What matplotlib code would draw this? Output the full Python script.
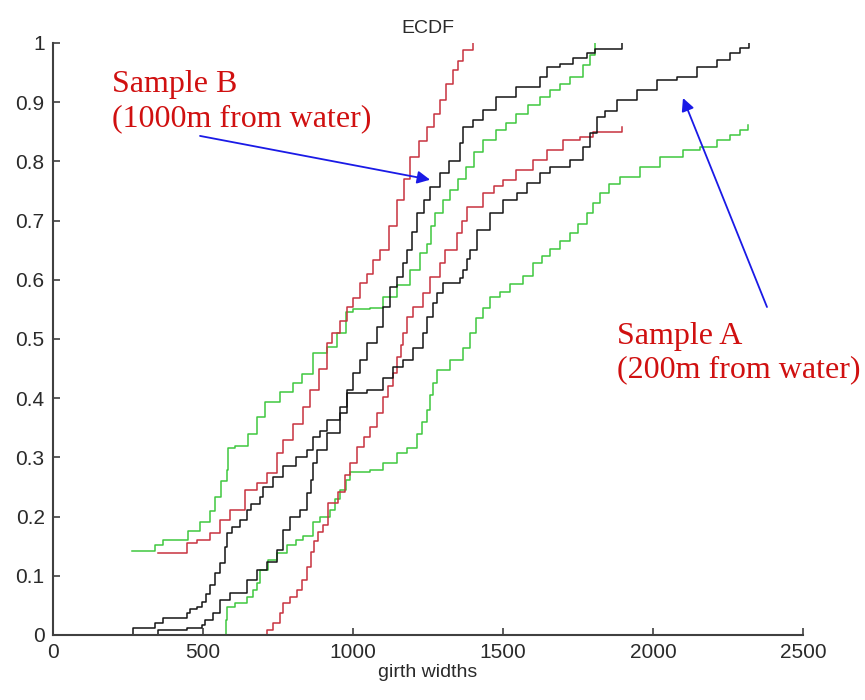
import matplotlib.pyplot as plt

# Curvas ECDF (x = girth width, y = F(x)), desenhadas em degraus
r1_x = [350, 447, 480, 523, 557, 590, 640, 680, 713, 747, 767, 800, 833, 857, 885, 913, 930, 955, 980,
        1000, 1023, 1045, 1067, 1090, 1120, 1147, 1170, 1190, 1220, 1247, 1270, 1290, 1310, 1333, 1350,
        1367, 1400]
r1_y = [0.138, 0.155, 0.16, 0.172, 0.194, 0.211, 0.245, 0.256, 0.273, 0.307, 0.33, 0.357, 0.385, 0.414,
        0.45, 0.493, 0.51, 0.53, 0.554, 0.57, 0.594, 0.61, 0.633, 0.65, 0.69, 0.735, 0.77, 0.807, 0.835,
        0.858, 0.88, 0.904, 0.93, 0.954, 0.97, 0.988, 1.0]

g1_x = [262, 340, 367, 450, 490, 523, 540, 560, 579, 583, 607, 650, 680, 707, 757, 800, 830, 867, 912,
        945, 978, 1000, 1057, 1101, 1145, 1190, 1223, 1247, 1260, 1273, 1300, 1323, 1350, 1378, 1405,
        1433, 1478, 1510, 1545, 1585, 1623, 1657, 1690, 1723, 1767, 1790, 1807]
g1_y = [0.141, 0.152, 0.16, 0.175, 0.19, 0.21, 0.233, 0.26, 0.279, 0.316, 0.32, 0.34, 0.368, 0.394, 0.41,
        0.425, 0.44, 0.476, 0.487, 0.51, 0.546, 0.55, 0.552, 0.571, 0.591, 0.617, 0.645, 0.66, 0.69, 0.713,
        0.735, 0.752, 0.77, 0.79, 0.815, 0.836, 0.853, 0.865, 0.88, 0.895, 0.909, 0.92, 0.93, 0.943, 0.963,
        0.98, 1.0]

g2_x = [262, 577, 580, 607, 647, 665, 680, 690, 717, 747, 780, 810, 833, 867, 890, 923, 940, 957, 975,
        990, 1057, 1100, 1147, 1180, 1213, 1230, 1247, 1257, 1267, 1280, 1323, 1367, 1390, 1410, 1433,
        1457, 1490, 1523, 1567, 1600, 1630, 1657, 1690, 1723, 1750, 1780, 1800, 1823, 1855, 1890, 1957,
        2023, 2100, 2157, 2213, 2257, 2290, 2317]
g2_y = [0.0, 0.025, 0.047, 0.054, 0.064, 0.076, 0.088, 0.11, 0.127, 0.138, 0.152, 0.16, 0.168, 0.19, 0.2,
        0.211, 0.23, 0.245, 0.262, 0.275, 0.279, 0.29, 0.307, 0.315, 0.34, 0.36, 0.38, 0.405, 0.425, 0.448,
        0.464, 0.485, 0.51, 0.535, 0.552, 0.571, 0.58, 0.593, 0.607, 0.628, 0.64, 0.652, 0.665, 0.679,
        0.695, 0.713, 0.73, 0.747, 0.762, 0.774, 0.791, 0.808, 0.819, 0.824, 0.836, 0.845, 0.853, 0.861]

r2_x = [350, 713, 733, 757, 767, 790, 813, 830, 847, 860, 870, 883, 900, 917, 950, 973, 990, 1013, 1035,
        1057, 1080, 1100, 1117, 1133, 1147, 1160, 1167, 1180, 1200, 1233, 1257, 1290, 1307, 1347, 1365,
        1380, 1433, 1470, 1500, 1545, 1600, 1647, 1700, 1757, 1800, 1897]
r2_y = [0.0, 0.008, 0.02, 0.037, 0.054, 0.064, 0.076, 0.093, 0.115, 0.14, 0.158, 0.174, 0.185, 0.223,
        0.242, 0.27, 0.29, 0.318, 0.335, 0.351, 0.375, 0.402, 0.42, 0.442, 0.47, 0.49, 0.51, 0.537, 0.554,
        0.578, 0.605, 0.628, 0.65, 0.679, 0.7, 0.723, 0.747, 0.758, 0.769, 0.785, 0.802, 0.819, 0.836,
        0.841, 0.85, 0.858]

k1_x = [265, 265, 340, 367, 447, 457, 480, 497, 510, 523, 540, 557, 573, 580, 597, 623, 647, 660, 690,
        700, 733, 767, 810, 847, 867, 890, 913, 957, 980, 1000, 1023, 1047, 1080, 1100, 1123, 1147, 1167,
        1180, 1197, 1213, 1235, 1257, 1290, 1320, 1357, 1367, 1400, 1433, 1478, 1545, 1623, 1647, 1690,
        1733, 1780, 1807, 1897]
k1_y = [0.0, 0.012, 0.02, 0.029, 0.037, 0.044, 0.047, 0.056, 0.07, 0.084, 0.105, 0.122, 0.149, 0.172,
        0.182, 0.194, 0.211, 0.222, 0.233, 0.25, 0.267, 0.285, 0.3, 0.313, 0.335, 0.345, 0.363, 0.385,
        0.414, 0.442, 0.464, 0.493, 0.52, 0.554, 0.588, 0.605, 0.628, 0.65, 0.68, 0.713, 0.735, 0.757,
        0.78, 0.8, 0.831, 0.858, 0.87, 0.887, 0.909, 0.926, 0.943, 0.96, 0.965, 0.975, 0.983, 0.99, 1.0]

k2_x = [350, 350, 447, 497, 505, 533, 557, 590, 647, 680, 713, 747, 767, 790, 823, 847, 860, 867, 880,
        913, 957, 980, 1047, 1100, 1133, 1167, 1200, 1233, 1247, 1265, 1280, 1300, 1357, 1367, 1380, 1390,
        1413, 1457, 1500, 1547, 1580, 1623, 1657, 1723, 1767, 1790, 1813, 1840, 1880, 1947, 2013, 2080,
        2147, 2213, 2257, 2290, 2320]
k2_y = [0.0, 0.008, 0.012, 0.017, 0.025, 0.037, 0.059, 0.071, 0.093, 0.11, 0.123, 0.144, 0.177, 0.2,
        0.211, 0.24, 0.262, 0.29, 0.312, 0.341, 0.375, 0.409, 0.414, 0.434, 0.453, 0.464, 0.485, 0.51,
        0.537, 0.56, 0.578, 0.595, 0.603, 0.617, 0.635, 0.65, 0.684, 0.713, 0.735, 0.747, 0.763, 0.78,
        0.79, 0.802, 0.824, 0.848, 0.875, 0.885, 0.904, 0.92, 0.937, 0.943, 0.96, 0.971, 0.983, 0.991, 1.0]

curvas = [
    (g1_x, g1_y, '#3fc83f'),
    (g2_x, g2_y, '#3fc83f'),
    (r1_x, r1_y, '#c8323f'),
    (r2_x, r2_y, '#c8323f'),
    (k1_x, k1_y, '#151515'),
    (k2_x, k2_y, '#151515'),
]

plt.rcParams['font.family'] = ['Liberation Sans', 'DejaVu Sans']

fig = plt.figure(figsize=(8.65, 7), dpi=100)
ax = fig.add_axes([0.0613, 0.0929, 0.867, 0.8457])

for xs, ys, cor in curvas:
    ax.plot(xs, ys, drawstyle='steps-post', color=cor, lw=1.1)

ax.set_xlim(0, 2500)
ax.set_ylim(0, 1)
ax.set_xticks([0, 500, 1000, 1500, 2000, 2500])
ax.set_yticks([i / 10 for i in range(11)])
ax.set_yticklabels(['0', '0.1', '0.2', '0.3', '0.4', '0.5', '0.6', '0.7', '0.8', '0.9', '1'])

for lado in ['top', 'right']:
    ax.spines[lado].set_visible(False)
for lado in ['left', 'bottom']:
    ax.spines[lado].set_color('#404040')
    ax.spines[lado].set_linewidth(1.5)
ax.tick_params(direction='in', length=5, width=1.2, color='#404040',
               labelsize=15, labelcolor='#2a2a2a', pad=6)

ax.set_title('ECDF', fontsize=14, color='#2a2a2a', pad=7)
ax.set_xlabel('girth widths', fontsize=14, color='#2a2a2a', labelpad=1)

# Anotações
fonte_txt = dict(family=['Liberation Serif', 'DejaVu Serif'], fontsize=23, color='#d01010')
ax.text(197, 0.901, 'Sample B\n(1000m from water)', ha='left', va='center', linespacing=1.2, **fonte_txt)
ax.text(1880, 0.4755, 'Sample A\n(200m from water)', ha='left', va='center', linespacing=1.2,
        clip_on=False, **fonte_txt)

seta = dict(arrowstyle='-|>', color='#1a1ae6', lw=1.3, mutation_scale=19, shrinkA=0, shrinkB=0)
ax.annotate('', xy=(1257, 0.769), xytext=(490, 0.843), arrowprops=seta)
ax.annotate('', xy=(2100, 0.907), xytext=(2380, 0.554), arrowprops=seta)

plt.savefig('out.png', dpi=100)
